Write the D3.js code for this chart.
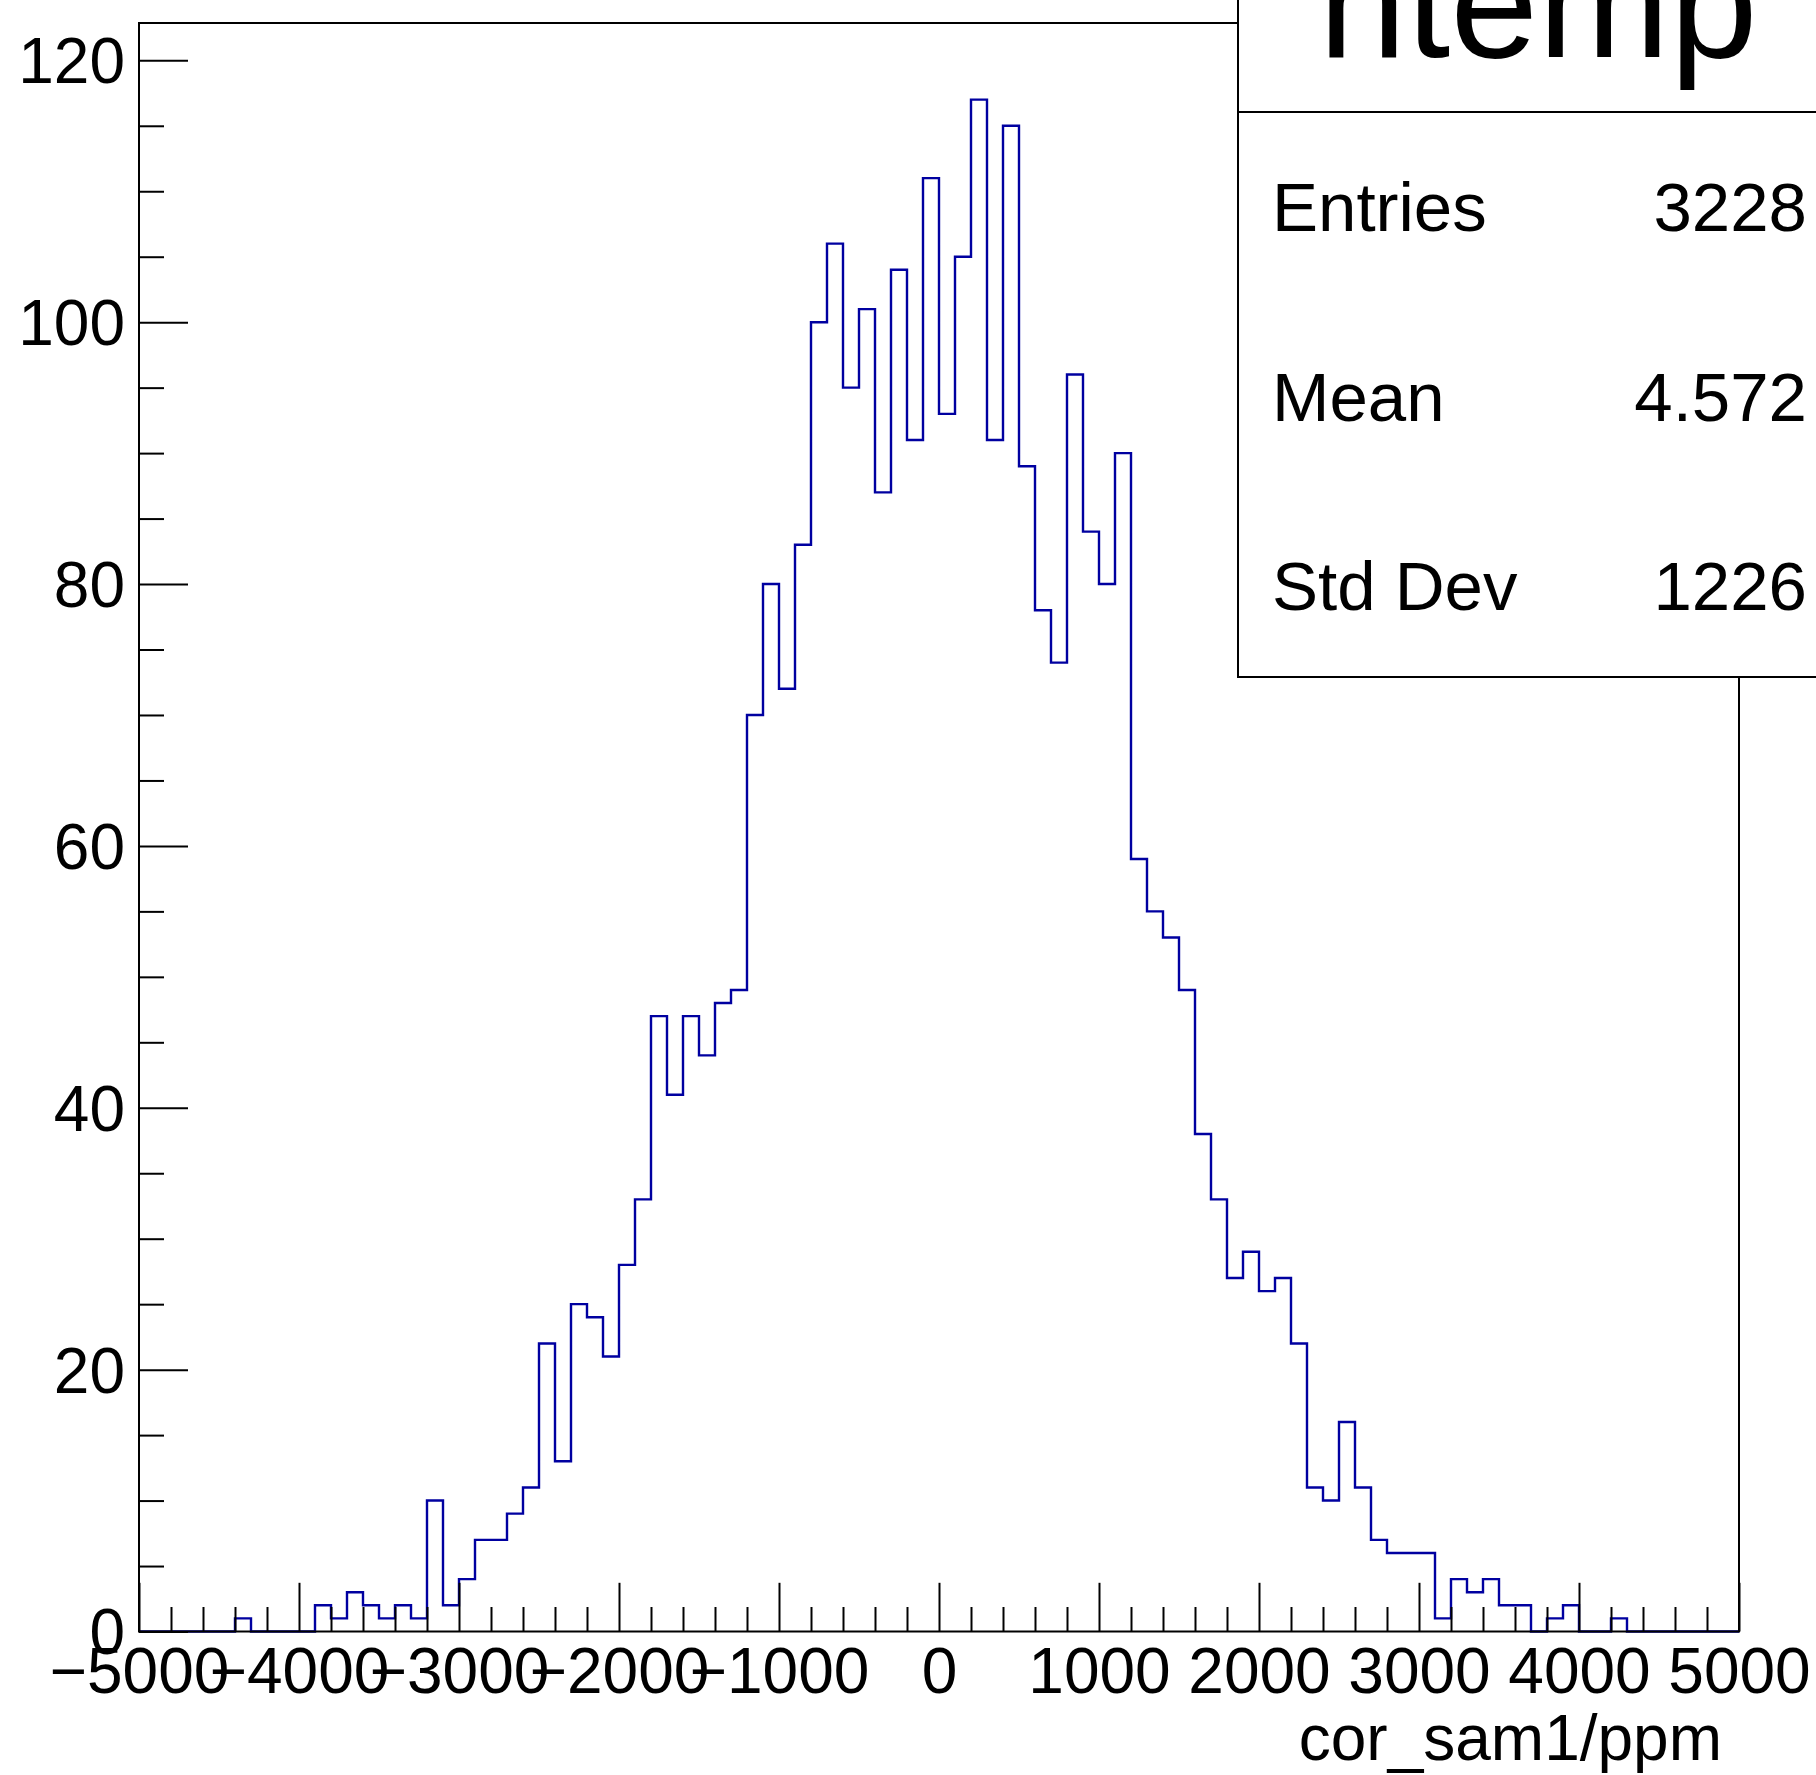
<!DOCTYPE html>
<html>
<head>
<meta charset="utf-8">
<script src="https://cdn.jsdelivr.net/npm/d3@7"></script>
<style>
  html, body { margin: 0; padding: 0; background: #fff; }
  svg { display: block; }
</style>
</head>
<body>
<div id="chart"></div>
<script>
// ---- data ----
const binLow = -5000;
const binWidth = 100;
const counts = [
  0,0,0,0,0,0,1,0,0,0,
  0,2,1,3,2,1,2,1,10,2,
  4,7,7,9,11,22,13,25,24,21,
  28,33,47,41,47,44,48,49,70,80,
  72,83,100,106,95,101,87,104,91,111,
  93,105,117,91,115,89,78,74,96,84,
  80,90,59,55,53,49,38,33,27,29,
  26,27,22,11,10,16,11,7,6,6,
  6,1,4,3,4,2,2,0,1,2,
  0,0,1,0,0,0,0,0,0,0
];
const xMajorTicks = [-5000,-4000,-3000,-2000,-1000,0,1000,2000,3000,4000,5000];
const yMajorTicks = [0,20,40,60,80,100,120];
const histTitle = "htemp";
const statsNames = ["Entries","Mean","Std Dev"];
const statsValues = ["3228","4.572","1226"];
const xAxisTitle = "cor_sam1/ppm";

// ---- layout ----
const W = 1816, H = 1775;
const padL = 139, padR = 1739, padT = 23, padB = 1631.5;
const font = "'Liberation Sans', Arial, Helvetica, sans-serif";
const labelSize = 64;

const svg = d3.select("#chart").append("svg")
  .attr("width", W).attr("height", H)
  .attr("viewBox", `0 0 ${W} ${H}`);
svg.append("rect").attr("width", W).attr("height", H).attr("fill", "#fff");

const yMax = d3.max(counts) * 1.05;
const x = d3.scaleLinear().domain([binLow, binLow + binWidth * counts.length]).range([padL, padR]);
const y = d3.scaleLinear().domain([0, yMax]).range([padB, padT]);

// histogram step outline
const pts = counts.map((c, i) => [binLow + i * binWidth, c]);
pts.push([binLow + counts.length * binWidth, counts[counts.length - 1]]);
const line = d3.line().x(d => x(d[0])).y(d => y(d[1])).curve(d3.curveStepAfter);
svg.append("path")
  .attr("d", line(pts))
  .attr("fill", "none")
  .attr("stroke", "#0000a0")
  .attr("stroke-width", 2.4);

// frame
svg.append("rect")
  .attr("x", padL).attr("y", padT)
  .attr("width", padR - padL).attr("height", padB - padT)
  .attr("fill", "none").attr("stroke", "#000").attr("stroke-width", 2);

// x axis (ticks point inward)
const xMinor = d3.range(binLow, binLow + binWidth * counts.length + 1, 200).filter(v => v % 1000 !== 0);
const gxMinor = svg.append("g").attr("transform", `translate(0,${padB})`)
  .call(d3.axisBottom(x).tickValues(xMinor).tickSize(-24.5).tickFormat(""));
const gx = svg.append("g").attr("transform", `translate(0,${padB})`)
  .call(d3.axisBottom(x).tickValues(xMajorTicks).tickSize(-48.7).tickPadding(16).tickFormat(d3.format("d")));

// y axis
const yMinor = d3.range(0, 121, 5).filter(v => v % 20 !== 0);
const gyMinor = svg.append("g").attr("transform", `translate(${padL},0)`)
  .call(d3.axisLeft(y).tickValues(yMinor).tickSize(-25).tickFormat(""));
const gy = svg.append("g").attr("transform", `translate(${padL},0)`)
  .call(d3.axisLeft(y).tickValues(yMajorTicks).tickSize(-49).tickPadding(14).tickFormat(d3.format("d")));

[gx, gy, gxMinor, gyMinor].forEach(g => {
  g.select(".domain").remove();
  g.selectAll(".tick line").attr("stroke", "#000").attr("stroke-width", 2);
  g.selectAll("text")
    .attr("font-family", font)
    .attr("font-size", labelSize)
    .attr("fill", "#000");
});
gy.selectAll("text").attr("dy", "0.35em");

// x axis title
svg.append("text")
  .attr("x", 1722).attr("y", 1760)
  .attr("text-anchor", "end")
  .attr("font-family", font).attr("font-size", labelSize)
  .text(xAxisTitle);

// title box (clipped by canvas top)
const boxLeft = 1238, boxRight = 1840;
svg.append("rect")
  .attr("x", boxLeft).attr("y", -60)
  .attr("width", boxRight - boxLeft).attr("height", 112 + 60)
  .attr("fill", "#fff").attr("stroke", "#000").attr("stroke-width", 2);
svg.append("text")
  .attr("x", 1538).attr("y", 57)
  .attr("text-anchor", "middle")
  .attr("font-family", font).attr("font-size", 158)
  .text(histTitle);

// stats box
svg.append("rect")
  .attr("x", boxLeft).attr("y", 112)
  .attr("width", boxRight - boxLeft).attr("height", 677 - 112)
  .attr("fill", "#fff").attr("stroke", "#000").attr("stroke-width", 2);
const rowY = [231, 421, 610];
statsNames.forEach((n, i) => {
  svg.append("text")
    .attr("x", 1272).attr("y", rowY[i])
    .attr("font-family", font).attr("font-size", 69)
    .text(n);
  svg.append("text")
    .attr("x", 1807).attr("y", rowY[i])
    .attr("text-anchor", "end")
    .attr("font-family", font).attr("font-size", 69)
    .text(statsValues[i]);
});
</script>
</body>
</html>
